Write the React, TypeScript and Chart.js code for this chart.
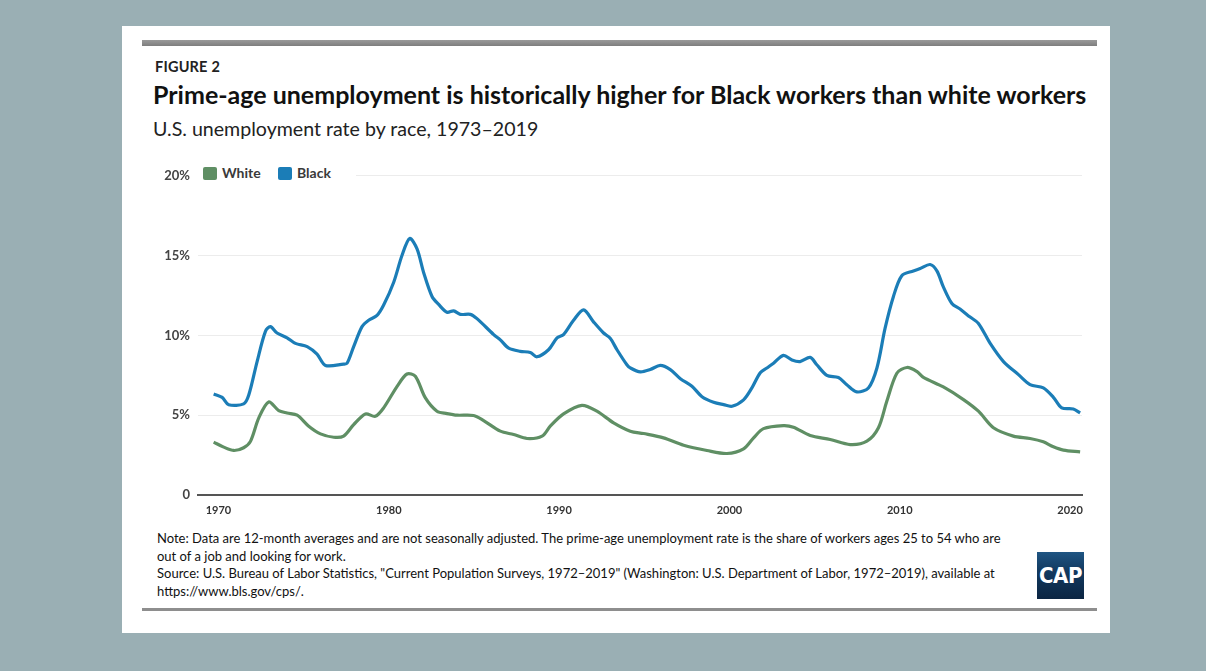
import React, { useEffect, useRef } from "react";
import { Chart, registerables } from "chart.js";

Chart.register(...registerables);

// ---- Data ----
const blackYears = [
  1969.72, 1970.22, 1970.6, 1971.48, 1971.78, 1972.27, 1972.76, 1973.05, 1973.44, 1974.03,
  1974.52, 1975.21, 1975.79, 1976.28, 1977.35, 1977.55, 1977.94, 1978.43, 1978.82, 1979.31,
  1979.7, 1980.29, 1980.78, 1981.23, 1981.66, 1982.05, 1982.54, 1982.93, 1983.42, 1983.81,
  1984.2, 1984.79, 1985.18, 1986.16, 1986.55, 1987.04, 1987.72, 1988.31, 1988.7, 1989.38,
  1989.88, 1990.26, 1990.85, 1991.44, 1992.02, 1992.61, 1993.0, 1993.4, 1993.98, 1994.18,
  1994.77, 1995.35, 1995.94, 1996.53, 1997.12, 1997.8, 1998.39, 1999.07, 1999.66, 2000.15,
  2000.83, 2001.32, 2001.81, 2002.2, 2002.59, 2003.17, 2003.67, 2004.15, 2004.74, 2005.13,
  2005.72, 2006.4, 2006.89, 2007.48, 2008.16, 2008.66, 2009.14, 2009.63, 2010.12, 2010.8,
  2011.2, 2011.78, 2012.18, 2012.56, 2013.06, 2013.54, 2014.13, 2014.62, 2015.31, 2016.09,
  2016.97, 2017.65, 2018.43, 2019.02, 2019.51, 2020.19, 2020.59,
];
const blackRates = [
  6.33, 6.12, 5.66, 5.71, 6.26, 8.36, 10.25, 10.55, 10.15, 9.85,
  9.5, 9.3, 8.82, 8.12, 8.2, 8.25, 9.3, 10.55, 10.95, 11.25,
  11.9, 13.33, 15.02, 16.07, 15.42, 13.93, 12.44, 11.94, 11.45, 11.54,
  11.32, 11.32, 11.05, 10.05, 9.72, 9.2, 9.0, 8.93, 8.66, 9.1,
  9.85, 10.05, 10.95, 11.6, 10.85, 10.15, 9.82, 9.1, 8.16, 7.96,
  7.71, 7.86, 8.12, 7.86, 7.29, 6.81, 6.16, 5.81, 5.66, 5.56,
  5.96, 6.71, 7.66, 7.96, 8.26, 8.75, 8.46, 8.36, 8.62, 8.16,
  7.5, 7.36, 6.91, 6.46, 6.71, 7.96, 10.45, 12.44, 13.74, 14.04,
  14.19, 14.44, 14.04, 13.04, 12.0, 11.65, 11.15, 10.75, 9.5, 8.36,
  7.54, 6.92, 6.71, 6.12, 5.46, 5.39, 5.14,
];
const whiteYears = [
  1969.72, 1970.31, 1970.9, 1971.48, 1971.88, 1972.37, 1972.95, 1973.54, 1974.03, 1974.62,
  1975.3, 1975.99, 1976.77, 1977.35, 1977.94, 1978.63, 1979.21, 1979.7, 1980.49, 1981.07,
  1981.56, 1982.15, 1982.83, 1983.42, 1984.01, 1984.98, 1985.57, 1986.55, 1987.33, 1988.12,
  1989.0, 1989.48, 1990.26, 1991.34, 1992.22, 1993.2, 1994.18, 1994.96, 1996.13, 1997.31,
  1998.68, 1999.85, 2000.83, 2001.42, 2002.0, 2003.17, 2003.76, 2004.74, 2005.92, 2007.09,
  2008.07, 2008.75, 2009.24, 2009.83, 2010.42, 2011.0, 2011.39, 2012.56, 2013.74, 2014.62,
  2015.5, 2016.67, 2017.65, 2018.43, 2019.02, 2019.61, 2020.59,
];
const whiteRates = [
  3.31, 3.0, 2.79, 2.96, 3.36, 4.83, 5.83, 5.29, 5.14, 5.0,
  4.31, 3.83, 3.62, 3.69, 4.41, 5.08, 4.93, 5.46, 6.81, 7.58,
  7.44, 6.08, 5.25, 5.1, 5.0, 4.98, 4.66, 4.0, 3.79, 3.54,
  3.69, 4.31, 5.08, 5.62, 5.25, 4.52, 4.0, 3.85, 3.58, 3.12,
  2.79, 2.6, 2.89, 3.58, 4.16, 4.35, 4.25, 3.73, 3.48, 3.16,
  3.37, 4.21, 5.87, 7.63, 7.99, 7.74, 7.37, 6.77, 5.98, 5.25,
  4.21, 3.69, 3.54, 3.33, 3.02, 2.81, 2.7,
];
const xTickYears = [1970, 1980, 1990, 2000, 2010, 2020];
const yTickValues = [0, 5, 10, 15, 20];
const seriesNames = ["White", "Black"];

const GREEN = "#5f8f64";
const BLUE = "#1b7db7";
const FONT = "Lato, 'Open Sans', sans-serif";

export default function App() {
  const canvasRef = useRef<HTMLCanvasElement | null>(null);

  useEffect(() => {
    document.body.style.margin = "0";
    const canvas = canvasRef.current;
    if (!canvas) return;
    const chart = new Chart(canvas, {
      type: "line",
      data: {
        datasets: [
          {
            label: seriesNames[0],
            data: whiteYears.map((x, i) => ({ x, y: whiteRates[i] })),
            borderColor: GREEN,
            borderWidth: 3.2,
            pointRadius: 0,
            tension: 0.3,
            fill: false,
          },
          {
            label: seriesNames[1],
            data: blackYears.map((x, i) => ({ x, y: blackRates[i] })),
            borderColor: BLUE,
            borderWidth: 3.2,
            pointRadius: 0,
            tension: 0.3,
            fill: false,
          },
        ],
      },
      options: {
        animation: false,
        responsive: false,
        maintainAspectRatio: false,
        layout: { padding: { top: 13, right: 18, left: 0, bottom: 0 } },
        plugins: { legend: { display: false }, tooltip: { enabled: false } },
        scales: {
          x: {
            type: "linear",
            min: 1968.8,
            max: 2020.7,
            grid: { display: false, drawTicks: false },
            border: { display: true, color: "#555555", width: 2 },
            afterBuildTicks: (s: any) => {
              s.ticks = xTickYears.map((v) => ({ value: v }));
            },
            afterFit: (s: any) => {
              s.height = 35;
            },
            ticks: {
              padding: 9,
              color: "#333333",
              font: { family: FONT, size: 11, weight: "bold" },
              callback: (v: any) => String(v),
              maxRotation: 0,
              autoSkip: false,
            },
          },
          y: {
            min: 0,
            max: 20,
            grid: { color: "#ececec", lineWidth: 1, drawTicks: false },
            border: { display: false },
            afterBuildTicks: (s: any) => {
              s.ticks = yTickValues.map((v) => ({ value: v }));
            },
            afterFit: (s: any) => {
              s.width = 58;
            },
            ticks: {
              padding: 8,
              color: "#444444",
              font: { family: FONT, size: 13, weight: "bold" },
              callback: (v: any) => (v === 0 ? "0" : v + "%"),
            },
          },
        },
      },
    });
    return () => chart.destroy();
  }, []);

  const abs = (s: React.CSSProperties): React.CSSProperties => ({ position: "absolute", ...s });

  return (
    <div style={abs({ left: 0, top: 0, width: 1206, height: 671, background: "#9aafb4", overflow: "hidden", fontFamily: FONT })}>
      <div style={abs({ left: 122, top: 26, width: 988, height: 607, background: "#ffffff" })} />
      <div style={abs({ left: 142, top: 40, width: 955, height: 6, background: "linear-gradient(#9a9a9a, #7e7e7e)" })} />
      <div style={abs({ left: 155, top: 58, fontSize: 14.5, fontWeight: 700, color: "#222", lineHeight: "18px", letterSpacing: 0.2 })}>FIGURE 2</div>
      <div style={abs({ left: 153, top: 79, fontSize: 25, fontWeight: 700, color: "#111", lineHeight: "30px", whiteSpace: "nowrap" })}>
        Prime-age unemployment is historically higher for Black workers than white workers
      </div>
      <div style={abs({ left: 153, top: 117, fontSize: 19.6, fontWeight: 400, color: "#222", lineHeight: "24px", whiteSpace: "nowrap" })}>
        U.S. unemployment rate by race, 1973–2019
      </div>

      <canvas ref={canvasRef} width={960} height={370} style={abs({ left: 140, top: 160, width: 960, height: 370 })} />

      <div style={abs({ left: 198, top: 163, width: 158, height: 20, background: "#ffffff" })} />
      <div style={abs({ left: 203, top: 167, width: 14, height: 13, background: GREEN, borderRadius: 2 })} />
      <div style={abs({ left: 222, top: 164, fontSize: 14, fontWeight: 700, color: "#3a3a3a", lineHeight: "18px" })}>{seriesNames[0]}</div>
      <div style={abs({ left: 278, top: 167, width: 14, height: 13, background: BLUE, borderRadius: 2 })} />
      <div style={abs({ left: 297, top: 164, fontSize: 14, fontWeight: 700, color: "#3a3a3a", lineHeight: "18px" })}>{seriesNames[1]}</div>

      <div style={abs({ left: 157, top: 530, fontSize: 13, color: "#111", lineHeight: "17.5px", whiteSpace: "nowrap" })}>
        Note: Data are 12-month averages and are not seasonally adjusted. The prime-age unemployment rate is the share of workers ages 25 to 54 who are
        <br />
        out of a job and looking for work.
        <br />
        Source: U.S. Bureau of Labor Statistics, "Current Population Surveys, 1972–2019" (Washington: U.S. Department of Labor, 1972–2019), available at
        <br />
        https://www.bls.gov/cps/.
      </div>

      <div
        style={abs({
          left: 1037,
          top: 552,
          width: 47,
          height: 47,
          background: "linear-gradient(#1f5583 0%, #123a60 40%, #0b2542 100%)",
          color: "#ffffff",
          fontFamily: "'Liberation Sans Narrow', 'DejaVu Sans Condensed', sans-serif",
          fontWeight: 700,
          fontSize: 22,
          lineHeight: "47px",
          textAlign: "center",
          letterSpacing: -0.5,
        })}
      >
        CAP
      </div>
      <div style={abs({ left: 142, top: 608, width: 955, height: 3, background: "#8e8e8e" })} />
    </div>
  );
}
